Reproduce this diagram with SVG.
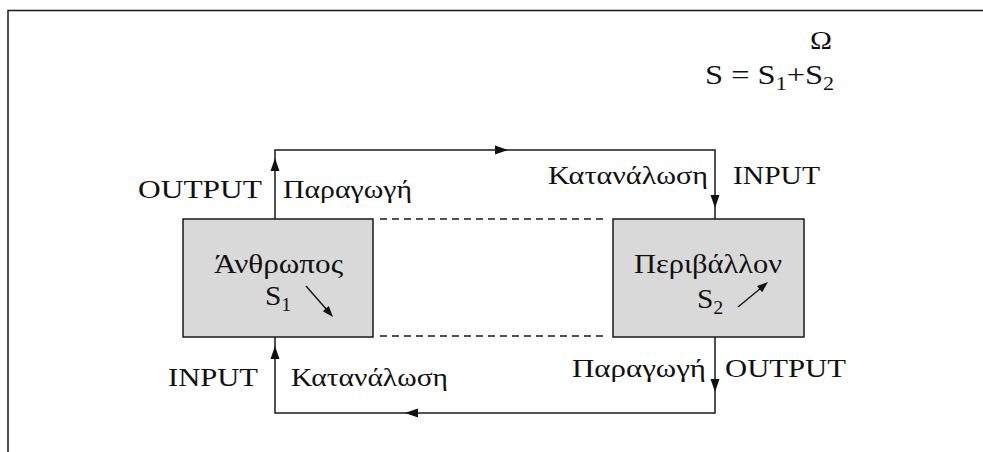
<svg xmlns="http://www.w3.org/2000/svg" width="983" height="452" viewBox="0 0 983 452">
<style>
.t{font-family:"Liberation Serif","Times New Roman",serif;font-size:26px;fill:#111}
.big{font-size:28px}
.sub{font-size:19px}
.ln{fill:none;stroke:#1a1a1a;stroke-width:1.5}
.box{fill:#d9d9d9;stroke:#1a1a1a;stroke-width:1.5}
.dash{fill:none;stroke:#1a1a1a;stroke-width:1.3;stroke-dasharray:7,5}
.ah{fill:#111}
</style>
<defs>
<path id="ah" d="M0,0 L-13,-4.5 L-13,4.5 Z"/>
<path id="ahs" d="M0,0 L-11,-4 L-11,4 Z"/>
</defs>
<rect width="983" height="452" fill="#fff"/>
<g id="frame">
<path class="ln" d="M8,452 V10.5 H983"/>
</g>
<g id="sum">
<text class="t" x="810" y="49" textLength="22" lengthAdjust="spacingAndGlyphs">Ω</text>
<text class="t big" transform="translate(705,84) scale(1.16,1)">S = S<tspan class="sub" dy="6">1</tspan><tspan dy="-6">+S</tspan><tspan class="sub" dy="6">2</tspan></text>
</g>
<g id="connectors">
<path class="ln" d="M275,219 V150 H715 V219"/>
<path class="ln" d="M275,337 V413 H715 V337"/>
<line class="dash" x1="380" y1="219" x2="608" y2="219"/>
<line class="dash" x1="380" y1="336" x2="608" y2="336"/>
<use href="#ah" class="ah" transform="translate(275,158) rotate(-90)"/>
<use href="#ah" class="ah" transform="translate(508,150)"/>
<use href="#ah" class="ah" transform="translate(715,208) rotate(90)"/>
<use href="#ah" class="ah" transform="translate(715,392) rotate(90)"/>
<use href="#ah" class="ah" transform="translate(405,413) rotate(180)"/>
<use href="#ah" class="ah" transform="translate(275,346) rotate(-90)"/>
<text class="t" x="138" y="198" textLength="124" lengthAdjust="spacingAndGlyphs">OUTPUT</text>
<text class="t" x="283" y="198" textLength="129" lengthAdjust="spacingAndGlyphs">Παραγωγή</text>
<text class="t" x="548" y="184" textLength="160" lengthAdjust="spacingAndGlyphs">Κατανάλωση</text>
<text class="t" x="733" y="184" textLength="87" lengthAdjust="spacingAndGlyphs">INPUT</text>
<text class="t" x="168" y="386" textLength="90" lengthAdjust="spacingAndGlyphs">INPUT</text>
<text class="t" x="291" y="386" textLength="157" lengthAdjust="spacingAndGlyphs">Κατανάλωση</text>
<text class="t" x="572" y="377" textLength="134" lengthAdjust="spacingAndGlyphs">Παραγωγή</text>
<text class="t" x="725" y="377" textLength="121" lengthAdjust="spacingAndGlyphs">OUTPUT</text>
</g>
<g id="anthropos">
<rect class="box" x="183" y="219" width="190" height="118"/>
<text class="t big" x="214" y="273" textLength="129" lengthAdjust="spacingAndGlyphs">Άνθρωπος</text>
<text class="t big" transform="translate(265,305) scale(1.05,1)">S<tspan class="sub" dy="6">1</tspan></text>
<line class="ln" x1="306" y1="286" x2="327" y2="310"/>
<use href="#ahs" class="ah" transform="translate(333,317) rotate(49)"/>
</g>
<g id="perivallon">
<rect class="box" x="613" y="219" width="191" height="118"/>
<text class="t big" x="634" y="273" textLength="148" lengthAdjust="spacingAndGlyphs">Περιβάλλον</text>
<text class="t big" transform="translate(697,308) scale(1.05,1)">S<tspan class="sub" dy="6">2</tspan></text>
<line class="ln" x1="738" y1="307" x2="761" y2="288"/>
<use href="#ahs" class="ah" transform="translate(768,282) rotate(-40)"/>
</g>
</svg>
